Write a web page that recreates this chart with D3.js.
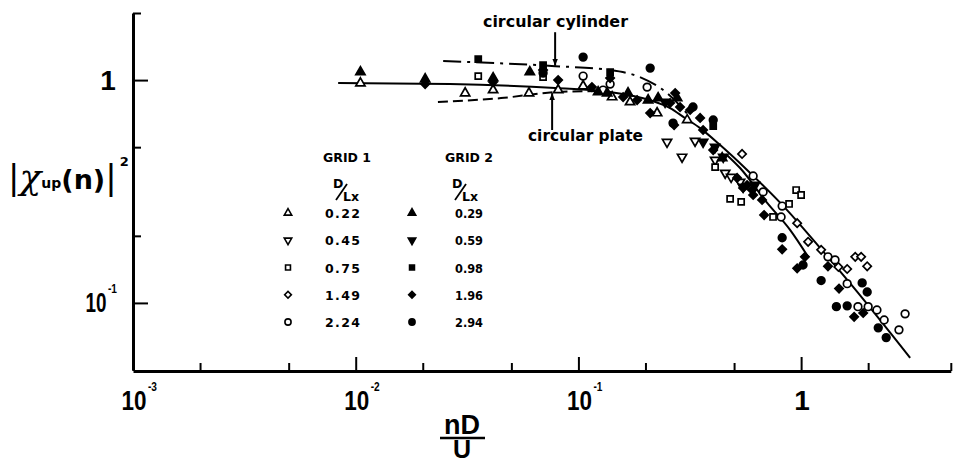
<!DOCTYPE html>
<html>
<head>
<meta charset="utf-8">
<script src="https://cdn.jsdelivr.net/npm/d3@7"></script>
<style>
body { margin: 0; background: #fff; }
svg text { fill: #000; }
.num { font-family: "Liberation Sans", "DejaVu Sans", sans-serif; font-weight: bold; }
.ann { font-family: "DejaVu Sans", sans-serif; font-size: 16px; font-weight: bold; }
.leg { font-family: "DejaVu Sans", sans-serif; font-size: 12.5px; font-weight: bold; }
.axis path, .axis line { stroke: #000; }
</style>
</head>
<body>
<svg width="957" height="464"></svg>
<script>

// nD/U , |chi_up(n)|^2
// GRID 1 (open symbols)
var d022 = [[0.0105,0.969],[0.031,0.874],[0.0414,0.902],[0.060,0.874],[0.0811,0.902],[0.105,0.94],
	[0.1417,0.839],[0.1706,0.797],[0.2256,0.711],[0.308,0.662]];
var d045 = [[0.250,0.527],[0.292,0.452],[0.334,0.533],[0.411,0.438],[0.456,0.383],[0.485,0.367],[0.532,0.349]];
var d075 = [[0.0355,1.042],[0.0694,1.031],[0.411,0.407],[0.480,0.293],[0.538,0.284],[0.748,0.243],
	[0.883,0.278],[0.95,0.321],[1.0,0.305]];
var d149 = [[0.543,0.466],[0.96,0.228],[1.075,0.188],[1.23,0.173],[1.47,0.145],[1.61,0.142],
	[1.75,0.161],[1.86,0.161],[1.98,0.146]];
var d224 = [[0.105,1.042],[0.129,0.902],[0.1388,0.9595],[0.2035,0.930],[0.609,0.371],[0.675,0.315],
	[0.822,0.272],[0.813,0.243],[1.32,0.161],[1.42,0.156],[1.61,0.122],[1.80,0.0962],[2.0,0.0962],
	[2.19,0.0929],[2.36,0.0838],[2.75,0.0757],[2.93,0.0893]];
// GRID 2 (filled symbols)
var d029 = [[0.0105,1.086],[0.0205,1.01],[0.0414,1.021],[0.0605,1.086],[0.1226,0.884],[0.1346,0.874],
	[0.167,0.874],[0.2056,0.813],[0.228,0.830],[0.2775,0.830],[0.442,0.447]];
var d059 = [[0.245,0.797],[0.363,0.527],[0.411,0.501],[0.447,0.452],[0.549,0.331],[0.621,0.338]];
var d098 = [[0.0355,1.242],[0.0694,1.168],[0.1388,1.086],[0.403,0.622]];
var d196 = [[0.0205,0.9595],[0.0414,0.9795],[0.0694,1.109],[0.0811,1.0],[0.115,0.930],[0.1388,1.021],
	[0.1588,0.839],[0.1835,0.813],[0.21,0.711],[0.258,0.789],[0.272,0.874],[0.286,0.757],[0.3175,0.734],
	[0.352,0.676],[0.363,0.597],[0.269,0.628],[0.403,0.485],[0.516,0.364],[0.549,0.328],[0.572,0.338],
	[0.603,0.321],[0.609,0.305],[0.668,0.290],[0.682,0.248],[0.822,0.174],[0.96,0.143],[1.04,0.161],
	[1.32,0.146],[1.48,0.116],[1.73,0.0866],[1.90,0.0901]];
var d294 = [[0.0694,1.075],[0.105,1.268],[0.21,1.132],[0.266,0.641],[0.327,0.757],[0.403,0.662],
	[0.822,0.196],[1.02,0.148],[1.23,0.126],[1.44,0.0962],[1.61,0.097],[1.88,0.123],[1.98,0.112],
	[2.22,0.0773],[2.41,0.0699]];

// fitted curves
var meanCurve = [[0.00834,0.9695],[0.0265,0.960],[0.0786,0.921],[0.1388,0.884],[0.21,0.813],[0.258,0.749],
	[0.301,0.676],[0.352,0.609],[0.433,0.511],[0.572,0.395],[0.865,0.261],[1.217,0.1765],[1.712,0.118],[3.087,0.0567]];
var branchCurve = [[0.46,0.465],[0.532,0.403],[0.704,0.281],[0.892,0.2126],[1.075,0.161]];
var cylinderCurve = [[0.0247,1.217],[0.0786,1.155],[0.139,1.109],[0.189,1.031],[0.250,0.874],[0.3175,0.682]];
var plateCurve = [[0.0234,0.797],[0.0449,0.830],[0.0802,0.884],[0.125,0.893]];

var grid1Ratios = ["0.22", "0.45", "0.75", "1.49", "2.24"];
var grid2Ratios = ["0.29", "0.59", "0.98", "1.96", "2.94"];
var shapes = ["triUp", "triDown", "square", "diamond", "circle"];

var xMajor = [0.001, 0.01, 0.1, 1];
var xMinor = [0.002, 0.005, 0.02, 0.05, 0.2, 0.5, 2];
var yMajor = [1, 0.1];
var yMinor = [0.5, 0.2];
var xLabels = ["-3", "-2", "-1", ""];
var yLabels = ["", "-1"];

var series = [
	{ data: d022, shape: "triUp", filled: false },
	{ data: d045, shape: "triDown", filled: false },
	{ data: d075, shape: "square", filled: false },
	{ data: d149, shape: "diamond", filled: false },
	{ data: d224, shape: "circle", filled: false },
	{ data: d029, shape: "triUp", filled: true },
	{ data: d059, shape: "triDown", filled: true },
	{ data: d098, shape: "square", filled: true },
	{ data: d196, shape: "diamond", filled: true },
	{ data: d294, shape: "circle", filled: true }
];

var svg = d3.select("svg");

var x = d3.scaleLog().domain([0.001, 4.7]).range([133, 950.8]);
var y = d3.scaleLog().domain([0.05, 2]).range([370, 13]);

// axes
var xg = svg.append("g").attr("class", "axis").attr("transform", "translate(0,371)");
xg.call(d3.axisBottom(x).tickValues(xMajor).tickSize(-14).tickSizeOuter(0).tickFormat(""));
xg.select(".domain").attr("stroke-width", 3);
xg.selectAll(".tick line").attr("stroke-width", 2);
var xm = svg.append("g").attr("class", "axis").attr("transform", "translate(0,371)");
xm.call(d3.axisBottom(x).tickValues(xMinor.concat([4.7])).tickSize(-8).tickFormat(""));
xm.select(".domain").remove();
xm.selectAll(".tick line").attr("stroke-width", 2);

var yg = svg.append("g").attr("class", "axis").attr("transform", "translate(133,0)");
yg.call(d3.axisLeft(y).tickValues(yMajor).tickSize(-15).tickSizeOuter(0).tickFormat(""));
yg.select(".domain").attr("stroke-width", 3);
yg.selectAll(".tick line").attr("stroke-width", 2);
var ym = svg.append("g").attr("class", "axis").attr("transform", "translate(133,0)");
ym.call(d3.axisLeft(y).tickValues(yMinor.concat([2])).tickSize(-8).tickFormat(""));
ym.select(".domain").remove();
ym.selectAll(".tick line").attr("stroke-width", 2);

// tick labels: "10" squeezed to the narrow face of the original, small superscript exponent
function powerLabel(cx, base, sup, width) {
	if (!sup) {
		svg.append("text").attr("class", "num").attr("x", cx).attr("y", base)
			.attr("text-anchor", "middle").attr("font-size", 28).text("1");
		return;
	}
	svg.append("text").attr("class", "num").attr("x", cx - width / 2).attr("y", base)
		.attr("font-size", 28).attr("textLength", width).attr("lengthAdjust", "spacingAndGlyphs")
		.text("10");
	svg.append("text").attr("class", "num").attr("x", cx + width / 2 + 1.5).attr("y", base - 19)
		.attr("font-size", 12).attr("textLength", 9).attr("lengthAdjust", "spacingAndGlyphs").text(sup);
}
xMajor.forEach(function(v, i) { powerLabel(x(v) + 1, 410, xLabels[i], 25); });
yMajor.forEach(function(v, i) {
	if (yLabels[i]) powerLabel(96, y(v) + 9, yLabels[i], 21);
	else powerLabel(108, y(v) + 10, "", 0);
});

// axis titles
var yt = svg.append("text").attr("x", 8).attr("y", 189).attr("font-family", "DejaVu Sans, sans-serif");
yt.append("tspan").attr("font-size", 34).text("|");
yt.append("tspan").attr("font-size", 36).attr("font-style", "italic")
	.attr("font-family", "DejaVu Serif, serif").text("\u03c7");
yt.append("tspan").attr("font-size", 14).attr("font-weight", "bold").attr("dy", -1).text("up");
yt.append("tspan").attr("font-size", 27).attr("font-weight", "bold").attr("dy", 1).text("(n)");
yt.append("tspan").attr("font-size", 34).text("|");
yt.append("tspan").attr("font-size", 13).attr("font-weight", "bold").attr("dy", -23).attr("dx", 3).text("2");

svg.append("text").attr("class", "num").attr("x", 462).attr("y", 434)
	.attr("text-anchor", "middle").attr("font-size", 27).text("nD");
svg.append("line").attr("x1", 440).attr("x2", 485).attr("y1", 438).attr("y2", 438)
	.attr("stroke", "#000").attr("stroke-width", 2.5);
svg.append("text").attr("class", "num").attr("x", 462).attr("y", 458)
	.attr("text-anchor", "middle").attr("font-size", 25).text("U");

// curves
var line = d3.line()
	.x(function(d) { return x(d[0]); })
	.y(function(d) { return y(d[1]); })
	.curve(d3.curveMonotoneX);

function drawCurve(data, dash) {
	svg.append("path").datum(data)
		.attr("d", line)
		.attr("fill", "none")
		.attr("stroke", "#000")
		.attr("stroke-width", 2)
		.attr("stroke-dasharray", dash);
}
drawCurve(meanCurve, null);
drawCurve(branchCurve, null);
drawCurve(cylinderCurve, "18,6,3,6");
drawCurve(plateCurve, "10,5");

// markers
function symbolPath(shape, size) {
	if (shape == "triUp" || shape == "triDown") return d3.symbol().type(d3.symbolTriangle).size(size * 0.8)();
	if (shape == "circle") return d3.symbol().type(d3.symbolCircle).size(size)();
	return d3.symbol().type(d3.symbolSquare).size(shape == "diamond" ? size * 0.75 : size * 0.8)();
}
function rotation(shape) {
	if (shape == "triDown") return " rotate(180)";
	if (shape == "diamond") return " rotate(45)";
	return "";
}

series.forEach(function(s) {
	svg.append("g").selectAll("path")
		.data(s.data)
		.enter().append("path")
		.attr("d", symbolPath(s.shape, 46))
		.attr("transform", function(d) { return "translate(" + x(d[0]) + "," + y(d[1]) + ")" + rotation(s.shape); })
		.attr("fill", s.filled ? "#000" : "#fff")
		.attr("stroke", "#000")
		.attr("stroke-width", 1.7);
});

// annotations
svg.append("defs").append("marker")
	.attr("id", "arrow").attr("viewBox", "0 0 10 10")
	.attr("refX", 10).attr("refY", 5)
	.attr("markerWidth", 7).attr("markerHeight", 7)
	.attr("markerUnits", "userSpaceOnUse")
	.attr("orient", "auto")
	.append("path").attr("d", "M0,1L10,5L0,9Z").attr("fill", "#000");

svg.append("line")
	.attr("x1", x(0.0786)).attr("x2", x(0.0786))
	.attr("y1", y(1.64)).attr("y2", y(1.16))
	.attr("stroke", "#000").attr("stroke-width", 2).attr("marker-end", "url(#arrow)");
svg.append("line")
	.attr("x1", x(0.0762)).attr("x2", x(0.0762))
	.attr("y1", y(0.597)).attr("y2", y(0.874))
	.attr("stroke", "#000").attr("stroke-width", 2).attr("marker-end", "url(#arrow)");

svg.append("text").attr("class", "ann").attr("x", 483).attr("y", 27)
	.attr("textLength", 145).attr("lengthAdjust", "spacingAndGlyphs").text("circular cylinder");
svg.append("text").attr("class", "ann").attr("x", 528).attr("y", 141)
	.attr("textLength", 115).attr("lengthAdjust", "spacingAndGlyphs").text("circular plate");

// legend
var legend = svg.append("g");
[[347, "GRID 1"], [469, "GRID 2"]].forEach(function(h, i) {
	legend.append("text").attr("class", "leg").attr("x", h[0]).attr("y", 162)
		.attr("text-anchor", "middle").text(h[1]);
	var ox = 333 + i * 119;
	legend.append("text").attr("class", "leg").attr("x", ox).attr("y", 188).attr("font-size", 11).text("D");
	legend.append("line").attr("x1", ox + 3).attr("y1", 200).attr("x2", ox + 14).attr("y2", 184)
		.attr("stroke", "#000").attr("stroke-width", 1.8);
	legend.append("text").attr("class", "leg").attr("x", ox + 10).attr("y", 201).attr("font-size", 11).text("L");
	legend.append("text").attr("class", "leg").attr("x", ox + 18).attr("y", 201).attr("font-size", 9).text("x");
});

var rowY = d3.scalePoint().domain(d3.range(5)).range([213, 322]);
shapes.forEach(function(sh, i) {
	legend.append("path").attr("d", symbolPath(sh, 30))
		.attr("transform", "translate(288," + rowY(i) + ")" + rotation(sh))
		.attr("fill", "#fff").attr("stroke", "#000").attr("stroke-width", 1.6);
	legend.append("path").attr("d", symbolPath(sh, 30))
		.attr("transform", "translate(412," + rowY(i) + ")" + rotation(sh))
		.attr("fill", "#000").attr("stroke", "#000").attr("stroke-width", 1.6);
	legend.append("text").attr("class", "leg").attr("x", 325).attr("y", rowY(i) + 5)
		.attr("textLength", 35).attr("lengthAdjust", "spacing").text(grid1Ratios[i]);
	legend.append("text").attr("class", "leg").attr("x", 455).attr("y", rowY(i) + 5)
		.attr("textLength", 28).attr("lengthAdjust", "spacingAndGlyphs").text(grid2Ratios[i]);
});

</script>
</body>
</html>
